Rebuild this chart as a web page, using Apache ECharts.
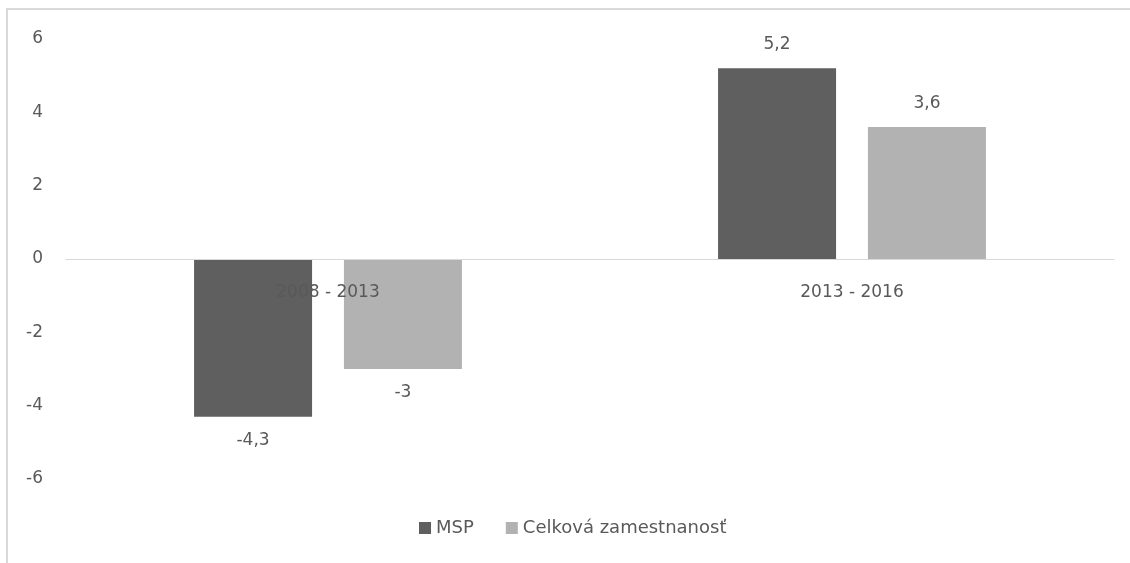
<!DOCTYPE html>
<html>
<head>
<meta charset="utf-8">
<script src="https://cdn.jsdelivr.net/npm/echarts@6/dist/echarts.min.js"></script>
<style>html,body{margin:0;padding:0;background:#fff;}#c{width:1130px;height:563px;}</style>
</head>
<body>
<div id="c"></div>
<script>
var categories = ['2008 - 2013', '2013 - 2016'];
var seriesNames = ['MSP', 'Celková zamestnanosť'];
var msp = [-4.3, 5.2];
var celkova = [-3, 3.6];
var yTicks = [-6, -4, -2, 0, 2, 4, 6];

var FONT = 'DejaVu Sans';
var TXT = '#595959';
var FS = 17;
var GRID_TOP = 39, GRID_BOTTOM = 84, H = 563;
var yMin = -6, yMax = 6;
var plotH = H - GRID_TOP - GRID_BOTTOM;
var zeroOffset = -plotH * (0 - yMin) / (yMax - yMin);

function fmt(v) { return String(v).replace('.', ','); }
function toData(arr) {
  return arr.map(function (v) {
    return { value: v, label: { position: v < 0 ? 'bottom' : 'top' } };
  });
}

var chart = echarts.init(document.getElementById('c'), null, { renderer: 'canvas' });
chart.setOption({
  animation: false,
  backgroundColor: '#fff',
  textStyle: { fontFamily: FONT },
  graphic: [{
    type: 'polyline',
    shape: { points: [[7, 563], [7, 9], [1130, 9]] },
    style: { stroke: '#d9d9d9', lineWidth: 2, fill: null },
    silent: true
  }],
  grid: { left: 66, right: 16, top: GRID_TOP, bottom: GRID_BOTTOM, containLabel: false },
  legend: {
    bottom: 21,
    left: 414,
    itemWidth: 12,
    itemHeight: 12,
    itemGap: 32,
    icon: 'rect',
    textStyle: { color: TXT, fontSize: 18, fontFamily: FONT },
    data: seriesNames
  },
  xAxis: {
    type: 'category',
    data: categories,
    position: 'bottom',
    offset: zeroOffset,
    axisLine: { show: true, onZero: false, lineStyle: { color: '#d9d9d9', width: 1 } },
    axisTick: { show: false },
    axisLabel: { color: TXT, fontSize: FS, fontFamily: FONT, margin: 25 },
    z: 10
  },
  yAxis: {
    type: 'value',
    min: yMin, max: yMax, interval: 2,
    axisLine: { show: false },
    axisTick: { show: false },
    splitLine: { show: false },
    axisLabel: { color: TXT, fontSize: FS, fontFamily: FONT, margin: 23,
      formatter: function (v) { return yTicks.indexOf(v) >= 0 ? fmt(v) : ''; } }
  },
  series: [{
    name: seriesNames[0],
    type: 'bar',
    data: toData(msp),
    barWidth: 118,
    barGap: '27%',
    itemStyle: { color: '#5f5f5f' },
    label: { show: true, color: TXT, fontSize: FS, fontFamily: FONT, distance: 15, formatter: function (p) { return fmt(p.value); } }
  }, {
    name: seriesNames[1],
    type: 'bar',
    data: toData(celkova),
    barWidth: 118,
    barGap: '27%',
    itemStyle: { color: '#b2b2b2' },
    label: { show: true, color: TXT, fontSize: FS, fontFamily: FONT, distance: 15, formatter: function (p) { return fmt(p.value); } }
  }]
});
</script>
</body>
</html>
